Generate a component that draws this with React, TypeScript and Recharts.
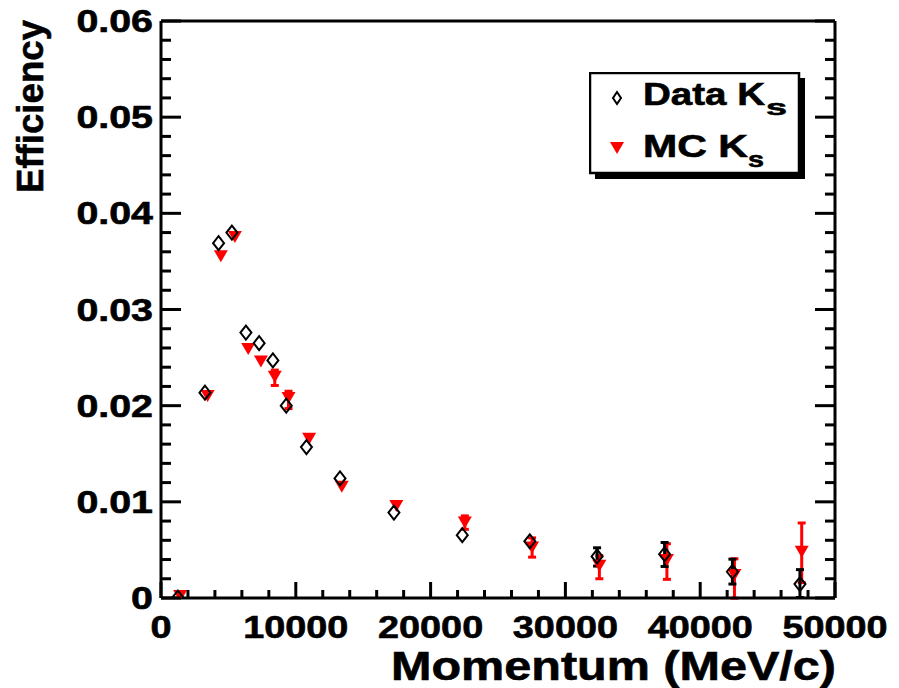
import React from "react";
import { ScatterChart, Scatter, XAxis, YAxis, ErrorBar, Legend } from "recharts";

// Data K_s (open diamonds)
const dataMomentum = [1250, 3260, 4270, 5260, 6300, 7280, 8300, 9290, 10790, 13280, 17280, 22350, 27360, 32350, 37360, 42390, 47400];
const dataEff = [0.00005, 0.02135, 0.0369, 0.038, 0.0276, 0.0265, 0.0247, 0.02, 0.0157, 0.01243, 0.00888, 0.00653, 0.0059, 0.00432, 0.00456, 0.00273, 0.00145];
const dataErrLow = [0, 0, 0, 0, 0, 0, 0, 0, 0, 0, 0, 0, 0, 0.001, 0.00128, 0.00128, 0.0014];
const dataErrHigh = [0, 0, 0, 0, 0, 0, 0, 0, 0, 0, 0, 0, 0, 0.0009, 0.00121, 0.00131, 0.0015];

// MC K_s (red down triangles)
const mcMomentum = [1420, 3460, 4440, 5480, 6470, 7410, 8440, 9460, 10990, 13410, 17460, 22540, 27530, 32520, 37530, 42540, 47530];
const mcEff = [0.0002, 0.021, 0.03554, 0.03755, 0.0259, 0.0246, 0.023, 0.0208, 0.01655, 0.01157, 0.00957, 0.00784, 0.00525, 0.00335, 0.00394, 0.00238, 0.0048];
const mcErrLow = [0, 0, 0, 0, 0, 0, 0.0009, 0.0011, 0, 0, 0, 0.0007, 0.001, 0.00135, 0.002, 0.0024, 0.0032];
const mcErrHigh = [0, 0, 0, 0, 0, 0, 0.0007, 0.0007, 0, 0, 0, 0.0007, 0.001, 0.00105, 0.0017, 0.0017, 0.003];

const xLabels = ["0", "10000", "20000", "30000", "40000", "50000"];
const yLabels = ["0", "0.01", "0.02", "0.03", "0.04", "0.05", "0.06"];

const xTicks: number[] = [];
for (let i = 0; i <= 25; i++) xTicks.push(i * 2000);
const yTicks: number[] = [];
for (let i = 0; i <= 30; i++) yTicks.push(i * 0.002);

const rows = (xs: number[], ys: number[], lo: number[], hi: number[]) =>
  xs.map((x, i) => ({
    x,
    y: ys[i],
    err: lo[i] || hi[i] ? [lo[i], hi[i]] : undefined,
  }));

const dataRows = rows(dataMomentum, dataEff, dataErrLow, dataErrHigh);
const mcRows = rows(mcMomentum, mcEff, mcErrLow, mcErrHigh);

const FONT = "'Liberation Sans', Arial, Helvetica, sans-serif";
const RED = "#ff0000";

const xMajor = (v: number) => v % 10000 === 0;
const yIndex = (v: number) => Math.round(v / 0.01);
const yMajor = (v: number) => Math.abs(v / 0.01 - yIndex(v)) < 1e-6;

// slightly heavier than plain bold, like the ROOT Helvetica output
const heavy = { fontFamily: FONT, fontWeight: "bold" as const, fill: "#000", stroke: "#000", strokeWidth: 0.6 };

function BottomTick(props: any) {
  const { x, y, payload } = props;
  const major = xMajor(payload.value);
  return (
    <g>
      <line x1={x} y1={y} x2={x} y2={y - (major ? 16 : 8)} stroke="#000" strokeWidth={3} />
      {major && (
        <text transform={`translate(${x},${y + 40}) scale(1.22,1)`} textAnchor="middle" fontSize={31} {...heavy}>
          {xLabels[payload.value / 10000]}
        </text>
      )}
    </g>
  );
}

function TopTick(props: any) {
  const { x, y, payload } = props;
  const major = xMajor(payload.value);
  return <line x1={x} y1={y} x2={x} y2={y + (major ? 16 : 8)} stroke="#000" strokeWidth={3} />;
}

function LeftTick(props: any) {
  const { x, y, payload } = props;
  const major = yMajor(payload.value);
  return (
    <g>
      <line x1={x} y1={y} x2={x + (major ? 20 : 10)} y2={y} stroke="#000" strokeWidth={3} />
      {major && (
        <text transform={`translate(${x - 8},${y + 11}) scale(1.27,1)`} textAnchor="end" fontSize={31} {...heavy}>
          {yLabels[yIndex(payload.value)]}
        </text>
      )}
    </g>
  );
}

function RightTick(props: any) {
  const { x, y, payload } = props;
  const major = yMajor(payload.value);
  return <line x1={x} y1={y} x2={x - (major ? 20 : 10)} y2={y} stroke="#000" strokeWidth={3} />;
}

function Diamond({ cx, cy, w = 5.5, h = 7 }: any) {
  return (
    <polygon
      points={`${cx},${cy - h} ${cx + w},${cy} ${cx},${cy + h} ${cx - w},${cy}`}
      fill="none"
      stroke="#000"
      strokeWidth={2}
    />
  );
}

function Triangle({ cx, cy }: any) {
  return <polygon points={`${cx - 7},${cy - 6} ${cx + 7},${cy - 6} ${cx},${cy + 6}`} fill={RED} />;
}

function LegendBox() {
  return (
    <svg width={216} height={108}>
      <rect x={6} y={6} width={210} height={101} fill="#000" />
      <rect x={1} y={1} width={209} height={100} fill="#fff" stroke="#000" strokeWidth={2.5} />
      <Diamond cx={28} cy={26} w={4} h={6} />
      <Triangle cx={28} cy={76} />
      <text x={54} y={33} fontSize={32} textLength={122} lengthAdjust="spacingAndGlyphs" {...heavy}>
        Data K
      </text>
      <text x={177} y={43} fontSize={22} textLength={21} lengthAdjust="spacingAndGlyphs" {...heavy}>
        s
      </text>
      <text x={54} y={85} fontSize={32} textLength={105} lengthAdjust="spacingAndGlyphs" {...heavy}>
        MC K
      </text>
      <text x={159} y={95} fontSize={22} textLength={16} lengthAdjust="spacingAndGlyphs" {...heavy}>
        s
      </text>
    </svg>
  );
}

export default function App() {
  const axisLine = { stroke: "#000", strokeWidth: 3 };
  return (
    <div style={{ position: "absolute", left: 0, top: 0, width: 899, height: 688, background: "#fff" }}>
      <ScatterChart width={899} height={688} margin={{ top: 0, right: 0, bottom: 0, left: 0 }}>
        <XAxis
          xAxisId="b"
          type="number"
          dataKey="x"
          domain={[0, 50000]}
          ticks={xTicks}
          interval={0}
          allowDataOverflow
          height={90}
          axisLine={axisLine}
          tickLine={false}
          tickSize={0}
          tickMargin={0}
          tick={<BottomTick />}
        />
        <XAxis
          xAxisId="t"
          orientation="top"
          type="number"
          domain={[0, 50000]}
          ticks={xTicks}
          interval={0}
          allowDataOverflow
          height={21}
          axisLine={axisLine}
          tickLine={false}
          tickSize={0}
          tickMargin={0}
          tick={<TopTick />}
        />
        <YAxis
          yAxisId="l"
          type="number"
          dataKey="y"
          domain={[0, 0.06]}
          ticks={yTicks}
          interval={0}
          allowDataOverflow
          width={161}
          axisLine={axisLine}
          tickLine={false}
          tickSize={0}
          tickMargin={0}
          tick={<LeftTick />}
        />
        <YAxis
          yAxisId="r"
          orientation="right"
          type="number"
          domain={[0, 0.06]}
          ticks={yTicks}
          interval={0}
          allowDataOverflow
          width={64}
          axisLine={axisLine}
          tickLine={false}
          tickSize={0}
          tickMargin={0}
          tick={<RightTick />}
        />
        <Scatter
          name="MC Ks"
          data={mcRows}
          xAxisId="b"
          yAxisId="l"
          shape={(p: any) => <Triangle cx={p.cx} cy={p.cy} />}
          isAnimationActive={false}
        >
          <ErrorBar dataKey="err" direction="y" width={4} strokeWidth={3} stroke={RED} />
        </Scatter>
        <Scatter
          name="Data Ks"
          data={dataRows}
          xAxisId="b"
          yAxisId="l"
          shape={(p: any) => <Diamond cx={p.cx} cy={p.cy} />}
          isAnimationActive={false}
        >
          <ErrorBar dataKey="err" direction="y" width={4} strokeWidth={3} stroke="#000" />
        </Scatter>
        <Legend
          layout="vertical"
          align="center"
          verticalAlign="middle"
          content={() => <LegendBox />}
          wrapperStyle={{ left: 589, top: 72, width: 216, height: 108 }}
        />
      </ScatterChart>
      <svg width={899} height={688} style={{ position: "absolute", left: 0, top: 0, pointerEvents: "none" }}>
        <text
          transform="translate(43,20) rotate(-90)"
          textAnchor="end"
          fontSize={37}
          textLength={173}
          lengthAdjust="spacingAndGlyphs"
          {...heavy}
        >
          Efficiency
        </text>
        <text
          x={836}
          y={680}
          textAnchor="end"
          fontSize={40}
          textLength={445}
          lengthAdjust="spacingAndGlyphs"
          {...heavy}
        >
          Momentum (MeV/c)
        </text>
      </svg>
    </div>
  );
}
